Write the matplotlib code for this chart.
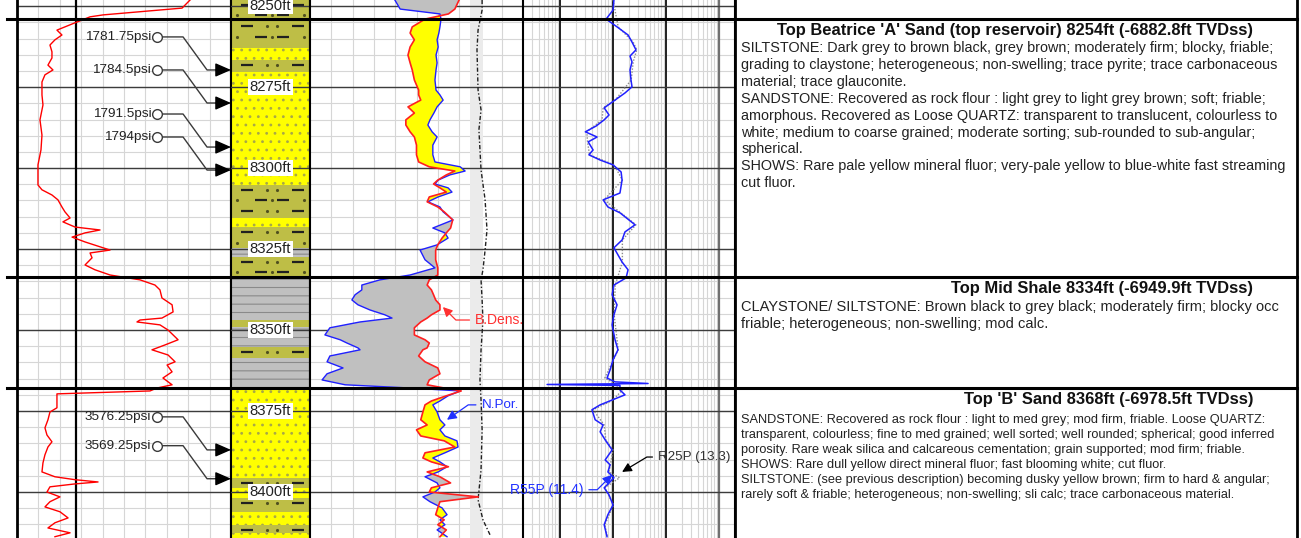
import numpy as np
import matplotlib.pyplot as plt
from matplotlib.lines import Line2D
from matplotlib.transforms import blended_transform_factory as blend

plt.rcParams['font.family'] = ['Liberation Sans', 'DejaVu Sans']
plt.rcParams['hatch.linewidth'] = 0.8

# ---------------- data ----------------
depth_top, depth_base = 8248.1, 8414.2

# gamma ray (API, 0-150 scale)
gr_depth = [8248.1, 8250.6, 8252.7, 8253.3, 8254.9, 8256.4, 8257.4, 8258.9, 8260.4, 8262.0,
            8264.1, 8266.0, 8268.2, 8269.7, 8271.2, 8273.4, 8277.4, 8280.5, 8285.1, 8289.8,
            8294.4, 8299.0, 8305.2, 8306.7, 8308.3, 8309.8, 8312.0, 8313.5, 8315.4, 8316.6,
            8318.2, 8319.1, 8320.0, 8321.3, 8322.8, 8325.3, 8326.2, 8327.7, 8329.9, 8331.4,
            8333.0, 8334.5, 8336.1, 8337.6, 8340.1, 8342.2, 8344.4, 8346.3, 8346.9, 8347.5,
            8348.4, 8350.0, 8353.0, 8354.6, 8356.1, 8357.7, 8359.8, 8360.8, 8362.9, 8364.8,
            8366.9, 8367.9, 8368.8, 8369.7, 8371.6, 8374.0, 8375.3, 8377.7, 8380.2, 8382.4,
            8384.5, 8386.1, 8388.5, 8391.0, 8393.8, 8395.3, 8396.2, 8396.9, 8397.5, 8398.4,
            8400.0, 8401.5, 8403.0, 8404.6, 8406.1, 8408.0, 8409.5, 8411.1, 8412.6, 8413.8]
gr_api = [121.3, 115.7, 60.3, 51.2, 42.0, 33.6, 28.0, 31.5, 26.6, 23.1,
          24.5, 24.5, 21.7, 25.2, 19.6, 17.5, 17.5, 18.2, 16.1, 17.5,
          16.8, 14.7, 14.7, 17.5, 24.5, 28.7, 31.5, 33.6, 37.2, 32.2,
          40.7, 58.2, 47.7, 38.6, 47.7, 65.2, 51.2, 52.6, 47.7, 54.7,
          65.2, 86.2, 96.7, 100.2, 101.6, 108.7, 109.4, 101.6, 86.2, 84.1,
          100.2, 105.9, 112.9, 103.7, 94.6, 105.9, 110.8, 105.2, 108.7, 102.3,
          108.7, 98.1, 93.2, 28.0, 28.0, 28.0, 23.1, 21.7, 19.6, 21.0,
          24.5, 21.7, 19.6, 18.2, 17.5, 26.6, 40.7, 56.8, 40.7, 23.1,
          21.0, 30.1, 23.1, 19.6, 30.1, 35.8, 26.6, 21.7, 37.2, 26.6]
bs_depth = [8248.1, 8414.2]
bs_in = [8.75, 8.75]

# lithology column
lith_top = [8248.0, 8262.9, 8266.6, 8270.3, 8305.2, 8315.4, 8318.2, 8324.6, 8327.4, 8333.6, 8346.9,
            8349.0, 8355.2, 8358.6, 8367.9, 8395.6, 8398.7, 8401.8, 8406.1, 8410.1, 8412.6]
lith_kind = ['silt', 'sand', 'silt', 'sand', 'silt', 'sand', 'silt', 'shale', 'silt', 'shale', 'silt',
             'shale', 'silt', 'shale', 'sand', 'silt', 'sand', 'silt', 'sand', 'silt', 'sand']
depth_labels = [8250, 8275, 8300, 8325, 8350, 8375, 8400]

# formation pressures
press_depth = [8269.7, 8279.9, 8293.5, 8300.6, 8387.0, 8395.9]
press_psi = ['1781.75', '1784.5', '1791.5', '1794', '3576.25', '3569.25']

# density (g/cc, 1.95-2.95) and neutron (v/v, 0.45 to -0.15)
dn_depth = [8248.1, 8250.9, 8252.4, 8254.0, 8256.4, 8258.3, 8260.4, 8262.6, 8265.1, 8267.5,
            8269.7, 8272.8, 8275.9, 8277.4, 8279.0, 8281.1, 8283.0, 8285.1, 8286.7, 8288.8,
            8290.4, 8292.9, 8295.9, 8298.1, 8299.6, 8300.9, 8302.1, 8303.7, 8304.9, 8306.1,
            8307.4, 8308.9, 8310.4, 8312.0, 8313.5, 8316.0, 8318.5, 8320.0, 8321.6, 8323.7,
            8325.3, 8328.3, 8330.8, 8333.0, 8334.5, 8336.1, 8337.6, 8339.1, 8340.7, 8342.2,
            8343.8, 8345.3, 8346.3, 8347.5, 8349.3, 8351.5, 8353.0, 8354.0, 8355.5, 8356.1,
            8358.0, 8359.8, 8361.7, 8363.5, 8365.4, 8366.9, 8367.9, 8368.8, 8370.3, 8371.9,
            8373.1, 8375.3, 8377.7, 8379.3, 8380.8, 8382.7, 8384.2, 8386.1, 8387.9, 8389.5,
            8390.7, 8392.2, 8393.8, 8395.3, 8397.2, 8398.7, 8400.0, 8401.5, 8403.0, 8404.9,
            8407.0, 8408.6, 8410.1, 8411.7, 8413.8]
rhob = [2.65, 2.63, 2.60, 2.49, 2.43, 2.42, 2.44, 2.42, 2.41, 2.42,
        2.43, 2.44, 2.46, 2.46, 2.47, 2.41, 2.44, 2.40, 2.40, 2.42,
        2.44, 2.45, 2.45, 2.46, 2.51, 2.63, 2.59, 2.55, 2.53, 2.56,
        2.59, 2.51, 2.50, 2.55, 2.58, 2.62, 2.61, 2.59, 2.57, 2.55,
        2.54, 2.54, 2.55, 2.55, 2.51, 2.50, 2.52, 2.53, 2.54, 2.56,
        2.56, 2.52, 2.50, 2.47, 2.44, 2.44, 2.49, 2.51, 2.50, 2.48,
        2.46, 2.49, 2.55, 2.56, 2.51, 2.50, 2.58, 2.66, 2.59, 2.52,
        2.49, 2.48, 2.47, 2.50, 2.45, 2.47, 2.58, 2.63, 2.49, 2.48,
        2.52, 2.60, 2.50, 2.56, 2.61, 2.52, 2.51, 2.74, 2.56, 2.55,
        2.54, 2.58, 2.55, 2.59, 2.56]
nphi = [0.211, 0.196, 0.084, 0.081, 0.084, 0.087, 0.092, 0.089, 0.095, 0.092,
        0.095, 0.098, 0.095, 0.084, 0.075, 0.092, 0.101, 0.112, 0.118, 0.106,
        0.092, 0.104, 0.104, 0.098, 0.027, 0.013, 0.056, 0.089, 0.098, 0.061,
        0.050, 0.089, 0.118, 0.084, 0.075, 0.047, 0.104, 0.070, 0.061, 0.092,
        0.140, 0.126, 0.098, 0.168, 0.253, 0.304, 0.304, 0.323, 0.332, 0.315,
        0.281, 0.239, 0.219, 0.309, 0.394, 0.408, 0.365, 0.346, 0.315, 0.309,
        0.394, 0.402, 0.357, 0.402, 0.416, 0.351, 0.168, 0.027, 0.061, 0.084,
        0.104, 0.092, 0.084, 0.070, 0.084, 0.070, 0.036, 0.033, 0.070, 0.104,
        0.084, 0.064, 0.089, 0.126, 0.092, 0.084, 0.098, 0.132, 0.112, 0.078,
        0.064, 0.084, 0.070, 0.092, 0.064]
cal_depth = [8248.1, 8251.2, 8257.4, 8263.5, 8275.9, 8282.0, 8288.2, 8300.6, 8309.8, 8319.1, 8325.3, 8331.4,
             8334.5, 8340.7, 8346.9, 8356.1, 8365.4, 8371.6, 8380.8, 8393.2, 8402.4, 8408.6, 8413.2]
cal_in = [14.08, 14.08, 13.89, 13.84, 13.89, 14.03, 13.93, 14.03, 14.22, 14.31, 14.22, 14.12,
          14.03, 14.08, 14.12, 14.03, 13.98, 14.03, 14.08, 14.03, 13.89, 14.12, 14.45]

# resistivity (ohm.m, log 0.2-2000)
res_depth = [8248.1, 8251.2, 8254.0, 8256.4, 8258.9, 8261.1, 8263.5, 8265.4, 8267.2, 8269.7,
             8272.8, 8274.9, 8276.8, 8279.0, 8281.4, 8283.6, 8285.1, 8287.0, 8288.8, 8290.4,
             8291.9, 8294.4, 8295.9, 8297.5, 8299.0, 8301.2, 8303.7, 8307.7, 8309.8, 8312.0,
             8313.8, 8317.5, 8319.7, 8322.2, 8324.6, 8326.8, 8329.0, 8331.4, 8333.9, 8336.1,
             8339.1, 8342.2, 8345.3, 8348.4, 8353.0, 8356.1, 8359.2, 8362.3, 8364.8, 8366.0,
             8366.5, 8366.8, 8367.1, 8368.5, 8370.0, 8371.6, 8373.1, 8374.6, 8377.7, 8379.3,
             8381.4, 8383.9, 8387.0, 8390.1, 8391.6, 8393.8, 8395.6, 8397.2, 8398.7, 8400.9,
             8404.0, 8407.0, 8410.1, 8413.8]
r55p = [10.4, 10.0, 7.4, 11.9, 19.2, 22.8, 27.1, 20.9, 22.8, 20.9,
        21.8, 22.8, 16.8, 10.9, 6.8, 8.4, 6.8, 4.8, 3.0, 5.0,
        3.4, 4.2, 3.5, 5.7, 10.0, 14.2, 14.8, 13.5, 6.5, 8.0,
        13.5, 26.0, 16.8, 14.8, 10.4, 12.4, 14.8, 19.2, 17.6, 10.4,
        9.6, 11.9, 10.4, 9.6, 10.9, 12.4, 10.0, 8.8, 7.7, 10.9,
        45.8, 0.57, 13.5, 13.5, 16.8, 9.6, 5.7, 4.0, 4.6, 6.5,
        5.7, 7.1, 9.6, 7.1, 8.8, 8.0, 10.4, 8.4, 6.8, 8.4,
        10.0, 8.0, 6.8, 7.7]
r25_depth = [8248.1, 8256.4, 8261.1, 8263.5, 8267.2, 8272.8, 8279.0, 8281.4, 8285.1, 8288.8,
             8291.9, 8295.9, 8299.0, 8303.7, 8309.8, 8313.8, 8317.5, 8322.2, 8329.0, 8336.1,
             8345.3, 8356.1, 8364.8, 8366.0, 8368.5, 8371.6, 8374.6, 8379.3, 8383.9, 8387.0,
             8393.8, 8395.6, 8398.7, 8404.0, 8410.1, 8413.8]
r25p = [10.0, 12.5, 24.0, 28.0, 24.0, 22.0, 11.0, 6.5, 6.2, 3.2,
        3.3, 3.6, 10.5, 15.0, 6.8, 14.0, 27.0, 15.0, 15.0, 11.0,
        10.5, 12.5, 7.0, 9.5, 15.0, 10.0, 4.2, 6.8, 7.3, 10.0,
        8.4, 13.3, 7.0, 10.2, 7.0, 7.8]

# formation tops and descriptions
tops_depth = [8254.0, 8333.6, 8367.9]
tops_title = ["Top Beatrice 'A' Sand (top reservoir) 8254ft (-6882.8ft TVDss)",
              "Top Mid Shale 8334ft (-6949.9ft TVDss)",
              "Top 'B' Sand 8368ft (-6978.5ft TVDss)"]
desc_1 = ["SILTSTONE: Dark grey to brown black, grey brown; moderately firm; blocky, friable;",
          "grading to claystone; heterogeneous; non-swelling; trace pyrite; trace carbonaceous",
          "material; trace glauconite.",
          "SANDSTONE: Recovered as rock flour : light grey to light grey brown; soft; friable;",
          "amorphous. Recovered as Loose QUARTZ: transparent to translucent, colourless to",
          "white; medium to coarse grained; moderate sorting; sub-rounded to sub-angular;",
          "spherical.",
          "SHOWS: Rare pale yellow mineral fluor; very-pale yellow to blue-white fast streaming",
          "cut fluor."]
desc_2 = ["CLAYSTONE/ SILTSTONE: Brown black to grey black; moderately firm; blocky occ",
          "friable; heterogeneous; non-swelling; mod calc."]
desc_3 = ["SANDSTONE: Recovered as rock flour : light to med grey; mod firm, friable. Loose QUARTZ:",
          "transparent, colourless; fine to med grained; well sorted; well rounded; spherical; good inferred",
          "porosity. Rare weak silica and calcareous cementation; grain supported; mod firm; friable.",
          "SHOWS: Rare dull yellow direct mineral fluor; fast blooming white; cut fluor.",
          "SILTSTONE: (see previous description) becoming dusky yellow brown; firm to hard & angular;",
          "rarely soft & friable; heterogeneous; non-swelling; sli calc; trace carbonaceous material."]

# ---------------- figure ----------------
W, H = 1301, 538
fig = plt.figure(figsize=(W / 100, H / 100), dpi=100)


def track(x0, x1):
    ax = fig.add_axes([x0 / W, 0, (x1 - x0) / W, 1])
    ax.set_ylim(depth_base, depth_top)
    for s in ('top', 'bottom'):
        ax.spines[s].set_visible(False)
    for s in ('left', 'right'):
        ax.spines[s].set_linewidth(1.5)
    return ax


def no_ticks(ax):
    ax.tick_params(which='both', bottom=False, left=False, top=False, right=False,
                   labelbottom=False, labelleft=False)


minor_d = np.arange(8250, 8415, 5)
major_d = np.arange(8250, 8415, 25)


def hgrid(ax):
    for d in minor_d:
        ax.axhline(d, color='#d6d6d6', lw=0.8, zorder=0)
    for d in major_d:
        ax.axhline(d, color='#3c3c3c', lw=1.0, zorder=1)


# track 1 : GR
ax_gr = track(17, 231)
ax_gr.set_xlim(0, 150)
for v in np.linspace(0, 150, 11)[1:-1]:
    ax_gr.axvline(v, color='#d6d6d6', lw=0.8, zorder=0)
hgrid(ax_gr)
ax_gr.spines['left'].set_linewidth(2)
ax_gr.plot((np.array(bs_in) - 6) / 10 * 150, bs_depth, color='black', lw=1.6, zorder=2)
ax_gr.plot(gr_api, gr_depth, color='red', lw=1.0, zorder=3)
no_ticks(ax_gr)

tr_gr = blend(ax_gr.transAxes, ax_gr.transData)
for d, p in zip(press_depth, press_psi):
    dl = d - 10.2
    ax_gr.plot([0.672, 0.776, 0.888, 0.95], [dl, dl, d, d], color='#3a3a3a', lw=1.0,
               transform=tr_gr, zorder=6, clip_on=False)
    ax_gr.plot([0.654], [dl], marker='o', ms=7, mfc='white', mec='#3a3a3a', mew=1.0,
               transform=tr_gr, zorder=7)
    ax_gr.text(0.627, dl, p + 'psi', transform=tr_gr, ha='right', va='center',
               fontsize=9.7, color='#222222', zorder=7)
    ax_gr.annotate('', xy=(1.0, d), xycoords=tr_gr, xytext=(0.93, d), textcoords=tr_gr,
                   arrowprops=dict(arrowstyle='-|>,head_length=0.8,head_width=0.35', color='black',
                                   lw=1.0, shrinkA=0, shrinkB=0, mutation_scale=12), zorder=8)

# track 2 : lithology
ax_lith = track(231, 310)
ax_lith.set_xlim(0, 1)
tr_li = blend(ax_lith.transAxes, ax_lith.transData)
lith_base = lith_top[1:] + [8415.0]
style = {'silt': dict(facecolor='#bebe46', edgecolor='#bebe46', hatch=None),
         'sand': dict(facecolor='#ffff00', edgecolor='#a8a848', hatch='..'),
         'shale': dict(facecolor='#c0c0c0', edgecolor='#8a8a8a', hatch='--')}
for t, b, k in zip(lith_top, lith_base, lith_kind):
    ax_lith.axhspan(t, b, lw=0, zorder=1, **style[k])
    if k == 'silt':
        rows = np.arange(t + 1.5, b - 0.6, 3.3)
        for i, d in enumerate(rows):
            dx = [0.2, 0.85] if i % 2 == 0 else [0.38, 0.66]
            px = [0.45, 0.58] if i % 2 == 0 else [0.08, 0.52, 0.92]
            ax_lith.plot(dx, [d] * len(dx), ls='none', marker='_', ms=8, mew=1.6,
                         color='#202020', transform=tr_li, zorder=2)
            ax_lith.plot(px, [d] * len(px), ls='none', marker='.', ms=2.5,
                         color='#505020', transform=tr_li, zorder=2)
for d in major_d:
    ax_lith.axhline(d, color='#3c3c3c', lw=1.0, zorder=3)
for d in depth_labels:
    ax_lith.text(0.5, d, f'{d}ft', transform=tr_li, ha='center', va='center', fontsize=10.7,
                 color='#222222', zorder=5,
                 bbox=dict(facecolor='white', edgecolor='none', pad=1.0))
no_ticks(ax_lith)

# track 3 : density / neutron
ax_dn = track(310, 523)
ax_dn.set_xlim(1.95, 2.95)
for v in np.linspace(1.95, 2.95, 11)[1:-1]:
    ax_dn.axvline(v, color='#d6d6d6', lw=0.8, zorder=0)
ax_dn.axvspan(2.70, 2.76, color='#ebebeb', lw=0, zorder=0.5)
hgrid(ax_dn)
ax_dn.spines['right'].set_linewidth(2)
rho = np.array(rhob)
neu = 1.95 + (0.45 - np.array(nphi)) / 0.6
ax_dn.fill_betweenx(dn_depth, rho, neu, where=rho <= neu, interpolate=True,
                    color='#ffff00', lw=0, zorder=2)
ax_dn.fill_betweenx(dn_depth, rho, neu, where=rho > neu, interpolate=True,
                    color='#c0c0c0', lw=0, zorder=2)
ax_dn.plot(1.95 + (np.array(cal_in) - 6) / 10, cal_depth, color='#202020', lw=1.0,
           ls=(0, (3, 1.5, 1, 1.5)), zorder=3)
ax_dn.plot(neu, dn_depth, color='#2020ff', lw=1.0, zorder=4)
ax_dn.plot(rho, dn_depth, color='#ff2020', lw=1.2, zorder=4)
ax_dn.annotate('B.Dens.', xy=(2.574, 8342.9), xytext=(2.725, 8346.9), color='#ff3030',
               fontsize=10, ha='left', va='center', zorder=6,
               arrowprops=dict(arrowstyle='-|>', color='#ff3030', lw=0.9, relpos=(0, 0.5),
                               connectionstyle='angle,angleA=0,angleB=-45,rad=0',
                               shrinkA=2, shrinkB=0, mutation_scale=14))
ax_dn.annotate('N.Por.', xy=(2.593, 8377.7), xytext=(2.755, 8373.1), color='#2030ff',
               fontsize=9.6, ha='left', va='center', zorder=6,
               arrowprops=dict(arrowstyle='-|>', color='#2030ff', lw=0.9, relpos=(0, 0.5),
                               connectionstyle='angle,angleA=0,angleB=35,rad=0',
                               shrinkA=2, shrinkB=0, mutation_scale=14))
no_ticks(ax_dn)

# track 4 : resistivity
ax_res = track(523, 735)
ax_res.set_xscale('log')
ax_res.set_xlim(0.2, 2000)
for dec in [0.1, 1, 10, 100, 1000]:
    for m in range(2, 10):
        v = dec * m
        if 0.2 < v < 2000:
            ax_res.axvline(v, color='#d6d6d6', lw=0.8, zorder=0)
for v in [1, 10, 100]:
    ax_res.axvline(v, color='#202020', lw=1.4, zorder=1)
ax_res.axvline(1000, color='#707070', lw=1.6, zorder=1)
hgrid(ax_res)
ax_res.plot(r25p, r25_depth, color='#8a8a8a', lw=1.0, ls=(0, (1, 1.2)), zorder=3)
ax_res.plot(r55p, res_depth, color='#2020ff', lw=1.1, zorder=4)
ax_res.annotate('R55P (11.4)', xy=(9.6, 8394.7), xytext=(2.75, 8399.3), color='#2030ff',
                fontsize=10, ha='right', va='center', zorder=6,
                arrowprops=dict(arrowstyle='-|>', color='#2030ff', lw=0.9, relpos=(1, 0.5),
                                connectionstyle='angle,angleA=0,angleB=45,rad=0',
                                shrinkA=2, shrinkB=0, mutation_scale=14))
ax_res.annotate('R25P (13.3)', xy=(14.8, 8393.8), xytext=(70.6, 8389.2), color='#303030',
                fontsize=9.6, ha='left', va='center', zorder=6,
                arrowprops=dict(arrowstyle='-|>', color='black', lw=0.9, relpos=(0, 0.5),
                                connectionstyle='angle,angleA=0,angleB=31,rad=0',
                                shrinkA=2, shrinkB=0, mutation_scale=14))
no_ticks(ax_res)

# text panel
ax_txt = track(735, 1297)
ax_txt.set_xlim(0, 1)
for s in ('left', 'right'):
    ax_txt.spines[s].set_linewidth(2)
no_ticks(ax_txt)
tr_tx = blend(ax_txt.transAxes, ax_txt.transData)
sections = [(desc_1, 10.35, 16.0, 1.26), (desc_2, 10.5, 16.5, 1.26), (desc_3, 9.2, 18.4, 1.34)]
for top, title, (lines, fs, gap, lsp) in zip(tops_depth, tops_title, sections):
    ax_txt.annotate(title, xy=(0.922, top), xycoords=tr_tx, xytext=(0, -3), textcoords='offset points',
                    ha='right', va='top', fontsize=11.9, fontweight='bold', color='#111111')
    ax_txt.annotate('\n'.join(lines), xy=(0.011, top), xycoords=tr_tx, xytext=(0, -gap),
                    textcoords='offset points', ha='left', va='top', fontsize=fs,
                    linespacing=lsp, color='#222222')

# formation top lines across all tracks
tr_fig = blend(fig.transFigure, ax_gr.transData)
for d in tops_depth:
    fig.add_artist(Line2D([7 / W, 1297 / W], [d, d], transform=tr_fig, color='black',
                          lw=2.2, zorder=10))

fig.savefig('out.png', dpi=100)
